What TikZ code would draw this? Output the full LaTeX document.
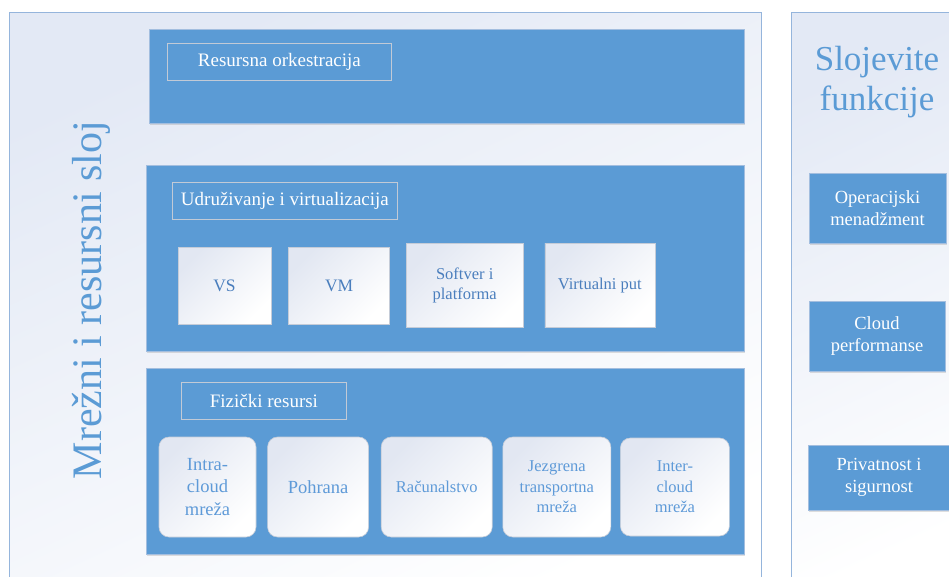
\documentclass[tikz,border=0pt]{standalone}
\usepackage{fontspec}
\setmainfont{Liberation Serif}
\usetikzlibrary{positioning,shadows}
\definecolor{boxblue}{HTML}{5B9BD5}
\definecolor{boxedge}{HTML}{A3BEDF}
\definecolor{paneledge}{HTML}{95B5DC}
\definecolor{panelbg}{HTML}{E3E9F5}
\definecolor{wboxbg}{HTML}{E2E7F2}
\definecolor{wboxedge}{HTML}{C5CCD8}
\definecolor{lbledge}{HTML}{C2CAD6}
\definecolor{darktxt}{HTML}{4A7EBD}
\definecolor{lighttxt}{HTML}{5E9AD8}
\tikzstyle{panel}=[rectangle, draw=paneledge, line width=1pt, top color=panelbg, bottom color=white, shading angle=25, inner sep=0pt]
\tikzstyle{layerbox}=[rectangle, draw=boxedge, line width=0.8pt, fill=boxblue, inner sep=0pt, drop shadow={shadow xshift=1pt, shadow yshift=-2pt, opacity=0.25}]
\tikzstyle{lblbox}=[rectangle, draw=lbledge, line width=0.8pt, text=white, minimum height=37pt, inner sep=0pt, font=\fontsize{19}{23}\selectfont]
\tikzstyle{wbox}=[rectangle, draw=wboxedge, line width=0.6pt, top color=wboxbg, bottom color=white, shading angle=45, text=darktxt, align=center, inner sep=0pt, font=\fontsize{16.5}{20.5}\selectfont]
\tikzstyle{rbox}=[wbox, rounded corners=10pt, minimum height=100pt, text=lighttxt]
\tikzstyle{funcbox}=[layerbox, text=white, align=center, font=\fontsize{18.5}{22}\selectfont]
\tikzstyle{bigtxt}=[font=\fontsize{18.5}{22.5}\selectfont]

\begin{document}
\begin{tikzpicture}[x=1pt, y=-1pt, node distance=0pt]
\useasboundingbox (0,0) rectangle (949,576);
\clip (0,0) rectangle (949,576);
% panels
\node (LPANEL) [panel, minimum width=752pt, minimum height=590pt] at (385,307) {};
\node (RPANEL) [panel, minimum width=180pt, minimum height=590pt] at (881,307) {};
\node (LTITLE) [rotate=90, text=boxblue, font=\fontsize{42}{48}\selectfont] at (91,300) {Mrežni i resursni sloj};
\node (RTITLE) [text=boxblue, align=center, font=\fontsize{35}{40}\selectfont] at (877,82) {Slojevite\\funkcije};
% orchestration layer
\node (ORCH) [layerbox, minimum width=595pt, minimum height=94pt, anchor=north west] at (149,29) {};
\node (ORCHT) [lblbox, minimum width=224pt, below right=14pt and 18pt of ORCH.north west] {Resursna orkestracija};
% virtualisation layer
\node (VIRT) [layerbox, minimum width=598pt, minimum height=186pt, anchor=north west] at (146,165) {};
\node (VIRTT) [lblbox, minimum width=225pt, below right=17pt and 26pt of VIRT.north west] {Udruživanje i virtualizacija};
\node (VS) [wbox, minimum width=93pt, minimum height=77pt, font=\fontsize{17.5}{21}\selectfont] at (224.5,285.5) {VS};
\node (VM) [wbox, minimum width=101pt, minimum height=77pt, font=\fontsize{17.5}{21}\selectfont, right=17pt of VS] {VM};
\node (SWP) [wbox, minimum width=117pt, minimum height=84pt, right=16pt of VM] {Softver i\\platforma};
\node (VPUT) [wbox, minimum width=110pt, minimum height=84pt, right=21pt of SWP] {Virtualni put};
% physical layer
\node (PHYS) [layerbox, minimum width=598pt, minimum height=186pt, anchor=north west] at (146,368) {};
\node (PHYST) [lblbox, minimum width=165pt, below right=14pt and 35pt of PHYS.north west] {Fizički resursi};
\node (INTRA) [rbox, bigtxt, minimum width=97pt] at (207.5,487) {Intra-\\cloud\\mreža};
\node (POHR) [rbox, bigtxt, minimum width=101pt, right=11pt of INTRA] {Pohrana};
\node (RAC) [rbox, minimum width=111pt, right=12pt of POHR] {Računalstvo};
\node (JEZG) [rbox, minimum width=108pt, right=10pt of RAC] {Jezgrena\\transportna\\mreža};
\node (INTER) [rbox, minimum width=109pt, minimum height=98pt, right=9pt of JEZG] {Inter-\\cloud\\mreža};
% layer functions
\node (OPS) [funcbox, minimum width=137pt, minimum height=70pt] at (877.5,208) {Operacijski\\menadžment};
\node (PERF) [funcbox, minimum width=136pt, minimum height=70pt] at (877,336) {Cloud\\performanse};
\node (PRIV) [funcbox, minimum width=142pt, minimum height=65pt] at (879,477.5) {Privatnost i\\sigurnost};
\end{tikzpicture}
\end{document}
